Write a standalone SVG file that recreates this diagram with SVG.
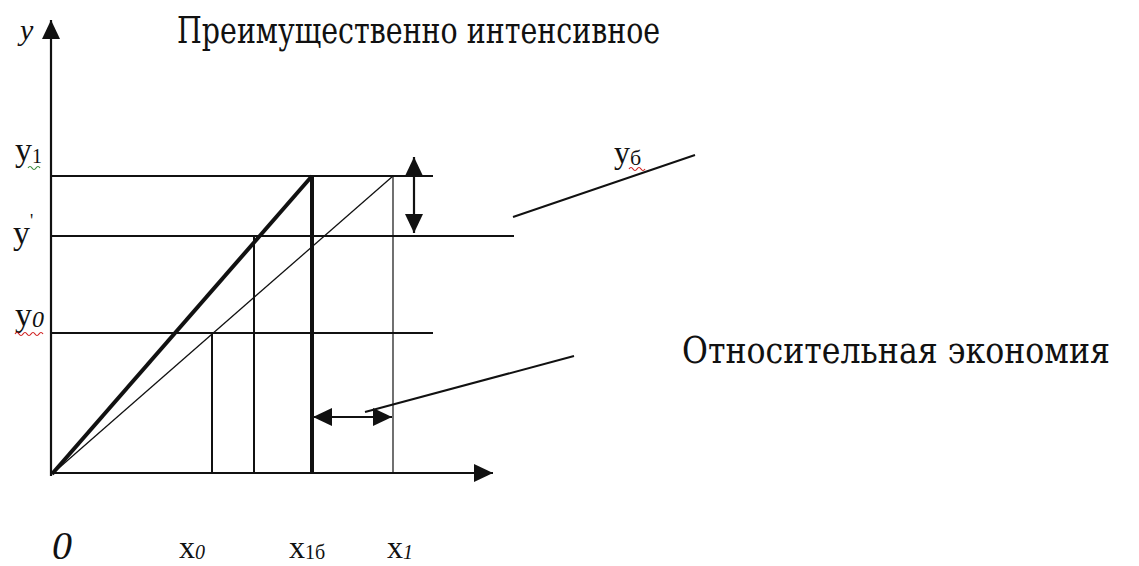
<svg xmlns="http://www.w3.org/2000/svg" width="1139" height="566" viewBox="0 0 1139 566">
<style>
.ln{stroke:#111;fill:none;stroke-linecap:butt}
.t{fill:#111}
.sq{fill:none;stroke-width:1.2}
</style>
<defs>
<marker id="ah" markerUnits="userSpaceOnUse" markerWidth="20" markerHeight="20" refX="19" refY="10" orient="auto-start-reverse">
<path d="M0,1 L19,10 L0,19 z" fill="#111"/>
</marker>
</defs>
<rect width="1139" height="566" fill="#fff"/>
<g id="axes">
<line class="ln" x1="51" y1="476" x2="51" y2="20" stroke-width="2.2" marker-end="url(#ah)"/>
<line class="ln" x1="50" y1="473" x2="493" y2="473" stroke-width="2.2" marker-end="url(#ah)"/>
</g>
<g id="levels">
<line class="ln" x1="51" y1="176" x2="433" y2="176" stroke-width="2"/>
<line class="ln" x1="51" y1="236" x2="514" y2="236" stroke-width="2"/>
<line class="ln" x1="51" y1="333" x2="433" y2="333" stroke-width="2"/>
</g>
<g id="curves">
<line class="ln" x1="52" y1="474" x2="312" y2="176" stroke-width="4"/>
<line class="ln" x1="52" y1="474" x2="393" y2="176" stroke-width="1.3"/>
<line class="ln" x1="312" y1="176" x2="312" y2="474" stroke-width="4"/>
<line class="ln" x1="393" y1="176" x2="393" y2="474" stroke-width="1.2"/>
<line class="ln" x1="254" y1="236" x2="254" y2="474" stroke-width="2"/>
<line class="ln" x1="212" y1="333" x2="212" y2="474" stroke-width="2"/>
</g>
<g id="connectors">
<line class="ln" x1="414" y1="157" x2="414" y2="233" stroke-width="2.2" marker-start="url(#ah)" marker-end="url(#ah)"/>
<line class="ln" x1="313" y1="417" x2="392" y2="417" stroke-width="2.2" marker-start="url(#ah)" marker-end="url(#ah)"/>
<line class="ln" x1="365" y1="412" x2="574" y2="356" stroke-width="2"/>
<line class="ln" x1="513" y1="217" x2="695" y2="155" stroke-width="2"/>
</g>
<g font-family="'DejaVu Serif', 'Liberation Serif', serif">
<g id="title">
<text class="t" transform="translate(177,43) scale(0.8,1)" x="0" y="0" font-size="38" textLength="604" lengthAdjust="spacingAndGlyphs">Преимущественно интенсивное</text>
</g>
<g id="label-economy">
<text class="t" transform="translate(682,363) scale(0.8,1)" x="0" y="0" font-size="38" textLength="535" lengthAdjust="spacingAndGlyphs">Относительная экономия</text>
</g>
</g>
<g font-family="'Liberation Serif', 'DejaVu Serif', serif">
<g id="label-y">
<text class="t" x="20" y="40" font-size="30" font-style="italic">y</text>
</g>
<g id="label-y1">
<text class="t" x="15" y="161" font-size="34">y<tspan font-size="20" dy="2">1</tspan></text>
<path class="sq" stroke="#3a8a3a" d="M28,168 q2,-3 4,0 t4,0 t4,0"/>
</g>
<g id="label-yprime">
<text class="t" x="13" y="244" font-size="34">y<tspan font-size="18" dy="-17">'</tspan></text>
</g>
<g id="label-y0">
<text class="t" x="15" y="326" font-size="34">y<tspan font-size="24" font-style="italic" dy="1">0</tspan></text>
<path class="sq" stroke="#d02020" d="M15,334 q2,-3 4,0 t4,0 t4,0 t4,0 t4,0 t4,0 t4,0"/>
</g>
<g id="label-yb">
<text class="t" x="614" y="163" font-size="32">y<tspan font-size="22" dy="2">б</tspan></text>
<path class="sq" stroke="#d02020" d="M629,169 q2,-3 4,0 t4,0 t4,0 t4,0"/>
</g>
<g id="label-0">
<text class="t" x="52" y="559" font-size="40" font-style="italic">0</text>
</g>
<g id="label-x0">
<text class="t" x="179" y="558" font-size="32">x<tspan font-size="20" font-style="italic" dy="1">0</tspan></text>
</g>
<g id="label-x1b">
<text class="t" x="289" y="558" font-size="32">x<tspan font-size="20" dy="1">1б</tspan></text>
</g>
<g id="label-x1">
<text class="t" x="387" y="558" font-size="32">x<tspan font-size="20" font-style="italic" dy="1">1</tspan></text>
</g>
</g>
</svg>
